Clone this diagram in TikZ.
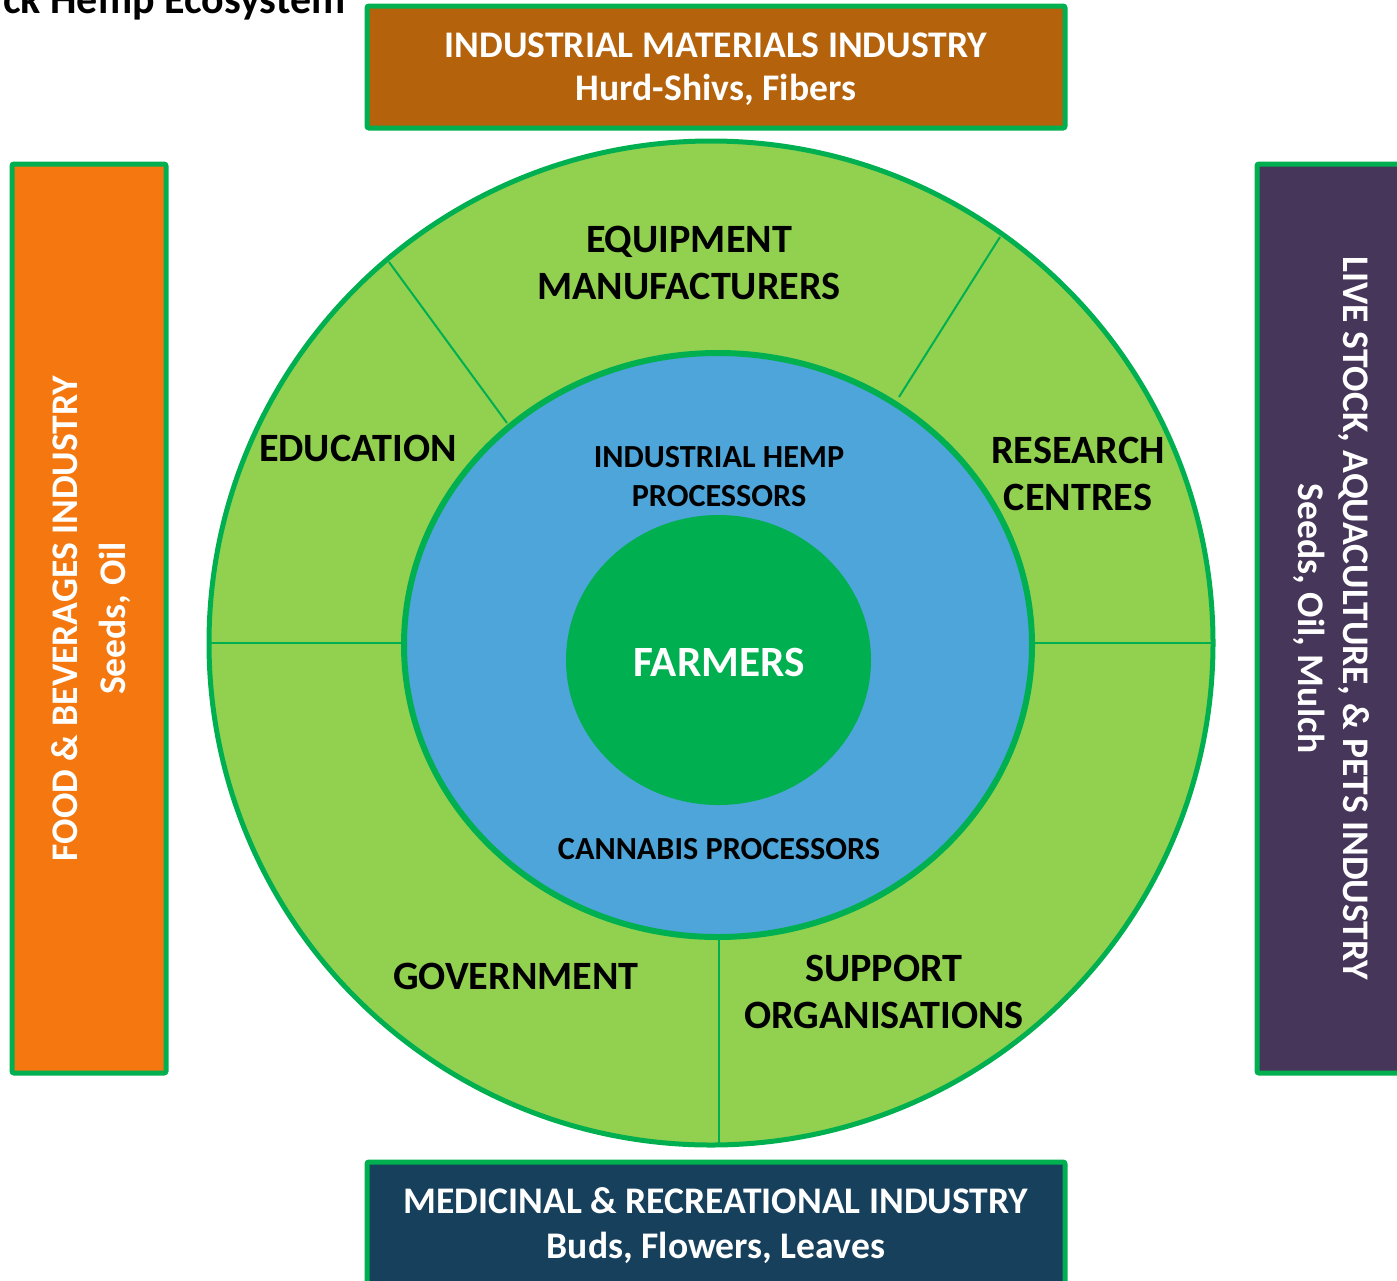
\documentclass[tikz,border=0pt]{standalone}
\usepackage{fontspec}
\setmainfont{Carlito}
\usepackage{xcolor}
\definecolor{ringgreen}{HTML}{92D050}
\definecolor{edgegreen}{HTML}{00B050}
\definecolor{procblue}{HTML}{4EA5D9}
\definecolor{matbrown}{HTML}{B4620B}
\definecolor{foodorange}{HTML}{F4770F}
\definecolor{stockpurple}{HTML}{46365A}
\definecolor{mednavy}{HTML}{16405B}
\tikzset{sector/.style = {font=\bfseries\fontsize{20.1}{23.5}\selectfont,
align=center, text=black, inner sep=0pt}}
\tikzset{proc/.style = {font=\bfseries\fontsize{16.1}{19.5}\selectfont,
align=center, text=black, inner sep=0pt}}
\tikzset{industry/.style = {draw=edgegreen, line width=2.5pt, rounded corners=1pt,
text=white, align=center, font=\bfseries\fontsize{18.8}{22.5}\selectfont,
inner sep=0pt, text depth=0pt}}

\begin{document}
\begin{tikzpicture}[x=0.5pt,y=-0.5pt]
                \useasboundingbox (0,0) rectangle (1397,1280);
                \node[font=\bfseries\fontsize{21}{25}\selectfont, anchor=base east, inner sep=0pt] (title) at (346,13) {ck Hemp Ecosystem};

                % outer ring
                \draw[fill=ringgreen, draw=edgegreen, line width=2.5pt] (711,643) circle[radius=502];
                \coordinate (ul1) at (389,262);
                \coordinate (ul2) at (507,423);
                \coordinate (ur1) at (1000,237);
                \coordinate (ur2) at (899,397);
                \coordinate (l1) at (210,643);
                \coordinate (l2) at (410,643);
                \coordinate (r1) at (1030,643);
                \coordinate (r2) at (1212,643);
                \coordinate (b1) at (719,930);
                \coordinate (b2) at (719,1143);
                \draw[edgegreen, line width=1pt] (ul1) to (ul2);
                \draw[edgegreen, line width=1pt] (ur1) to (ur2);
                \draw[edgegreen, line width=1pt] (l1) to (l2);
                \draw[edgegreen, line width=1pt] (r1) to (r2);
                \draw[edgegreen, line width=1pt] (b1) to (b2);

                % processors and farmers
                \draw[fill=procblue, draw=edgegreen, line width=3pt] (718,645) ellipse[x radius=314, y radius=292];
                \fill[edgegreen] (718.5,660) ellipse[x radius=152.5, y radius=145];

                \node[sector] (equip) at (689,263) {EQUIPMENT\\MANUFACTURERS};
                \node[sector] (edu) at (358,448) {EDUCATION};
                \node[sector] (research) at (1078,474) {RESEARCH\\CENTRES};
                \node[sector] (gov) at (516,976) {GOVERNMENT};
                \node[sector] (support) at (884,992) {SUPPORT\\ORGANISATIONS};
                \node[proc] (hemp) at (719,477) {INDUSTRIAL HEMP\\PROCESSORS};
                \node[proc] (cannabis) at (719,849) {CANNABIS PROCESSORS};
                \node[sector, text=white, font=\bfseries\fontsize{21.6}{25}\selectfont] (farmers) at (719,662) {FARMERS};

                % industries
                \node[industry, fill=matbrown, minimum width=349pt, minimum height=61pt, font=\bfseries\fontsize{18.8}{21.5}\selectfont] (materials) at (716,67) {INDUSTRIAL MATERIALS INDUSTRY\\Hurd-Shivs, Fibers};
                \node[industry, fill=foodorange, rotate=90, minimum width=454.5pt, minimum height=77pt, font=\bfseries\fontsize{18.8}{24}\selectfont] (food) at (89,618.5) {FOOD \& BEVERAGES INDUSTRY\\Seeds, Oil};
                \node[industry, fill=stockpurple, rotate=-90, minimum width=454.5pt, minimum height=77pt] (stock) at (1334,618.5) {LIVE STOCK, AQUACULTURE, \& PETS INDUSTRY\\Seeds, Oil, Mulch};
                \node[industry, fill=mednavy, minimum width=349pt, minimum height=61pt] (medicinal) at (716,1223) {MEDICINAL \& RECREATIONAL INDUSTRY\\Buds, Flowers, Leaves};
            \end{tikzpicture}
\end{document}
